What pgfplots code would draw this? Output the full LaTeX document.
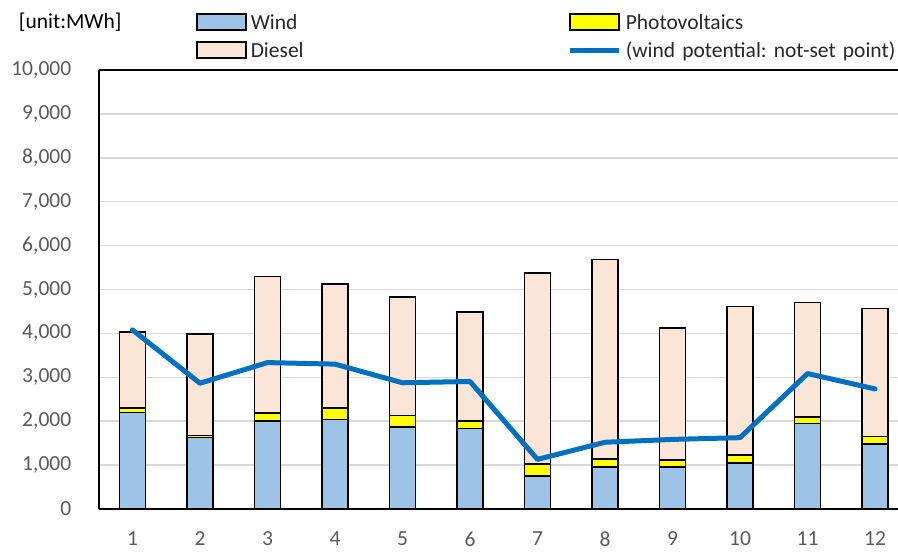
\documentclass[border=0pt]{standalone}
\usepackage{fontspec}
\setmainfont{Carlito}
\usepackage{pgfplots}
\usepackage{pgfplotstable}
\pgfplotsset{compat=1.18}

\definecolor{windblue}{HTML}{9DC3E6}
\definecolor{pvyellow}{HTML}{FFFF00}
\definecolor{dieselpeach}{HTML}{FBE5D6}
\definecolor{potblue}{HTML}{0070C0}
\definecolor{gridgray}{HTML}{D9D9D9}
\definecolor{labgray}{HTML}{595959}
\definecolor{legtext}{HTML}{262626}

% monthly generation by source [MWh] and wind potential (not-set point)
\pgfplotstableread{
m  wind  pv   diesel  pot
1  2200  100  1730    4080
2  1630   40  2320    2865
3  2000  180  3120    3335
4  2040  260  2830    3300
5  1870  260  2695    2875
6  1830  180  2480    2905
7   750  270  4360    1130
8   960  180  4540    1520
9   960  150  3010    1585
10 1050  180  3385    1625
11 1950  140  2615    3085
12 1480  170  2920    2735
}\energy

\pgfplotsset{
  frame/.style={
    scale only axis, width=799.3bp, height=439bp,
    at={(98.7bp,43bp)}, anchor=south west,
    xmin=0.5, xmax=12.34, ymin=0, ymax=10000,
  }
}

\begin{document}
\begin{tikzpicture}[font=\fontsize{21.5bp}{24bp}\selectfont\frenchspacing]
\begin{axis}[
  frame,
  clip mode=individual,
  ybar stacked, bar width=26bp,
  xtick={1,...,12}, ytick={0,1000,...,10000},
  scaled y ticks=false,
  ymajorgrids, grid style={draw=gridgray, line width=1.5bp},
  major tick length=0pt,
  axis x line=box, axis y line=left, separate axis lines,
  axis line style={-, line width=1.8bp, black},
  tick label style={text=labgray},
  /pgf/number format/assume math mode=true,
  yticklabel style={/pgf/number format/.cd, fixed, 1000 sep={,}, /tikz/.cd, xshift=-24bp},
  xticklabel style={yshift=-19bp},
  legend columns=2,
  legend cell align=left,
  legend style={
    at={(axis description cs:0.1217,1.1412)}, anchor=north west,
    draw=none, fill=none, inner sep=0pt,
    nodes={text width=313bp, align=left, text height=15bp, text depth=1.2bp,
           inner xsep=4bp, inner ysep=5.9bp, text=legtext},
  },
  area legend,
  legend image code/.code={\draw[#1] (0bp,-8bp) rectangle (49bp,8bp);},
]
\addplot[fill=windblue, draw=black, line width=1.6bp] table[x=m, y=wind] {\energy};
\addlegendentry{Wind}
\addplot[fill=pvyellow, draw=black, line width=1.6bp] table[x=m, y=pv] {\energy};
\addlegendentry{Photovoltaics}
\addplot[fill=dieselpeach, draw=black, line width=1.6bp] table[x=m, y=diesel] {\energy};
\addlegendentry{Diesel}
\addlegendimage{legend image code/.code={\draw[potblue, line width=5bp] (0bp,0bp) -- (49bp,0bp);}}
\addlegendentry{(wind potential: not-set point)}
\node[anchor=base west, inner sep=0pt, text=black] at (axis description cs:-0.1,1.0934) {[unit:MWh]};
\end{axis}
\begin{axis}[frame, hide axis]
\addplot[potblue, line width=5bp, line join=round, line cap=round] table[x=m, y=pot] {\energy};
\end{axis}
\pgfresetboundingbox
\useasboundingbox (0,0) rectangle (898bp,552bp);
\end{tikzpicture}
\end{document}
